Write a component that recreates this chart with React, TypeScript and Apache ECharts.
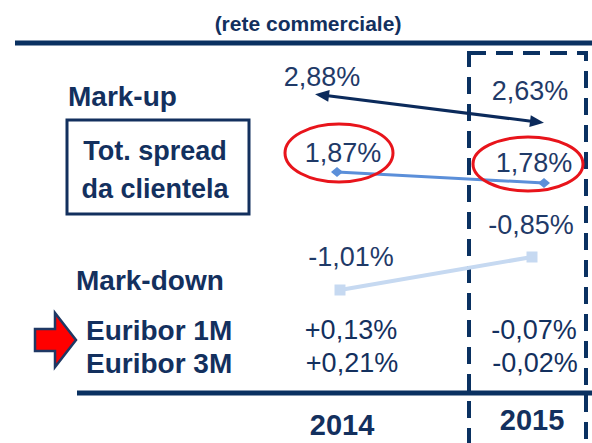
import React, { useEffect, useRef } from "react";
import * as echarts from "echarts";

const years = ["2014", "2015"];
const markUp = [2.88, 2.63];
const totSpread = [1.87, 1.78];
const markDown = [-1.01, -0.85];
const euribor1M = ["+0,13%", "-0,07%"];
const euribor3M = ["+0,21%", "-0,02%"];

// label offsets (presentation only)
const markUpLabelOffsets = [[0, -18], [-7, -31]];
const totSpreadLabelOffsets = [[6, -19], [-10, -20]];
const markDownLabelOffsets = [[11, -33], [-1, -32]];
const markUpArrowRotate = [83, -97];

const NAVY = "#13305E";
const LINE_NAVY = "#0A3161";
const LABEL = "#1F3A68";
const FONT = "'Liberation Sans', Arial, sans-serif";

const fmt = (v: number) => v.toFixed(2).replace(".", ",") + "%";

export default function App() {
  const ref = useRef<HTMLDivElement>(null);
  useEffect(() => {
    if (!ref.current) return;
    const chart = echarts.init(ref.current, null, { renderer: "svg" });

    const grids = [
      { left: 322, right: 55, top: 50, bottom: 53 },
      { left: 337, right: 48, top: 50, bottom: 53 },
      { left: 340, right: 60, top: 50, bottom: 53 },
    ];
    const yRanges = [
      [0.1486, 3.2967],
      [0.0864, 2.8682],
      [-1.4949, 0.1536],
    ];

    const labelBase = {
      show: true,
      position: "inside",
      formatter: (p: any) => fmt(p.value),
      fontFamily: FONT,
      fontSize: 27,
      color: LABEL,
      align: "center",
      verticalAlign: "middle",
    };

    const boldText = (text: string, x: number, y: number, size: number, align = "left") => ({
      type: "text",
      x,
      y,
      style: {
        text,
        fill: NAVY,
        font: `bold ${size}px ${FONT}`,
        textAlign: align,
        textVerticalAlign: "middle",
      },
    });
    const plainText = (text: string, x: number, y: number) => ({
      type: "text",
      x,
      y,
      style: {
        text,
        fill: NAVY,
        font: `27px ${FONT}`,
        textAlign: "center",
        textVerticalAlign: "middle",
      },
    });

    const colX = [351, 534];

    chart.setOption({
      animation: false,
      grid: grids,
      xAxis: grids.map((_, i) => ({
        type: "category",
        data: years,
        boundaryGap: false,
        show: false,
        gridIndex: i,
      })),
      yAxis: yRanges.map((r, i) => ({
        type: "value",
        min: r[0],
        max: r[1],
        show: false,
        gridIndex: i,
      })),
      series: [
        {
          type: "line",
          xAxisIndex: 0,
          yAxisIndex: 0,
          data: markUp.map((v, i) => ({
            value: v,
            symbolRotate: markUpArrowRotate[i],
            label: { offset: markUpLabelOffsets[i] },
          })),
          symbol: "triangle",
          symbolSize: [12, 14],
          showSymbol: true,
          lineStyle: { color: "#0B2A5B", width: 3 },
          itemStyle: { color: "#0B2A5B" },
          label: labelBase,
          z: 3,
        },
        {
          type: "line",
          xAxisIndex: 1,
          yAxisIndex: 1,
          data: totSpread.map((v, i) => ({
            value: v,
            label: { offset: totSpreadLabelOffsets[i] },
          })),
          symbol: "diamond",
          symbolSize: [12, 10],
          lineStyle: { color: "#5B8FD9", width: 3 },
          itemStyle: { color: "#5B8FD9" },
          label: labelBase,
          z: 3,
        },
        {
          type: "line",
          xAxisIndex: 2,
          yAxisIndex: 2,
          data: markDown.map((v, i) => ({
            value: v,
            label: { offset: markDownLabelOffsets[i] },
          })),
          symbol: "rect",
          symbolSize: 11,
          lineStyle: { color: "#C6D9F1", width: 4 },
          itemStyle: { color: "#C6D9F1" },
          label: labelBase,
          z: 3,
        },
      ],
      graphic: [
        // title
        boldText("(rete commerciale)", 308, 23, 21, "center"),
        {
          type: "line",
          shape: { x1: 15, y1: 43, x2: 592, y2: 43 },
          style: { stroke: LINE_NAVY, lineWidth: 5 },
        },
        // dashed 2015 box
        {
          type: "rect",
          shape: { x: 469, y: 53, width: 117, height: 430 },
          style: { fill: "none", stroke: LINE_NAVY, lineWidth: 4, lineDash: [17, 10] },
        },
        // bottom line
        {
          type: "line",
          shape: { x1: 77, y1: 393, x2: 592, y2: 393 },
          style: { stroke: LINE_NAVY, lineWidth: 5 },
        },
        // category labels
        boldText("Mark-up", 68, 96, 28),
        {
          type: "rect",
          shape: { x: 67, y: 120, width: 182, height: 94 },
          style: { fill: "none", stroke: NAVY, lineWidth: 3 },
        },
        boldText("Tot. spread", 155, 151, 27, "center"),
        boldText("da clientela", 155, 189, 27, "center"),
        boldText("Mark-down", 76, 280, 28),
        boldText("Euribor 1M", 86, 330, 28),
        boldText("Euribor 3M", 86, 363, 28),
        // arrow
        {
          type: "polygon",
          shape: {
            points: [
              [35, 329],
              [55, 329],
              [55, 313],
              [76, 340],
              [55, 367],
              [55, 351],
              [35, 351],
            ],
          },
          style: { fill: "#FF0000", stroke: "#1F3864", lineWidth: 2.5 },
        },
        // euribor values
        ...euribor1M.map((t, i) => plainText(t, colX[i], 330)),
        ...euribor3M.map((t, i) => plainText(t, colX[i] + 1, 363)),
        // years
        boldText(years[0], 342, 425, 29, "center"),
        boldText(years[1], 532, 420, 29, "center"),
        // red ellipses
        {
          type: "ellipse",
          shape: { cx: 339, cy: 153, rx: 54, ry: 29 },
          style: { fill: "none", stroke: "#E8141B", lineWidth: 3 },
          z: 10,
        },
        {
          type: "ellipse",
          shape: { cx: 528, cy: 164, rx: 55, ry: 27 },
          style: { fill: "none", stroke: "#E8141B", lineWidth: 3 },
          z: 10,
        },
      ],
    });
    return () => chart.dispose();
  }, []);
  return (
    <div
      ref={ref}
      style={{ position: "absolute", left: 0, top: 0, width: 592, height: 443 }}
    />
  );
}
